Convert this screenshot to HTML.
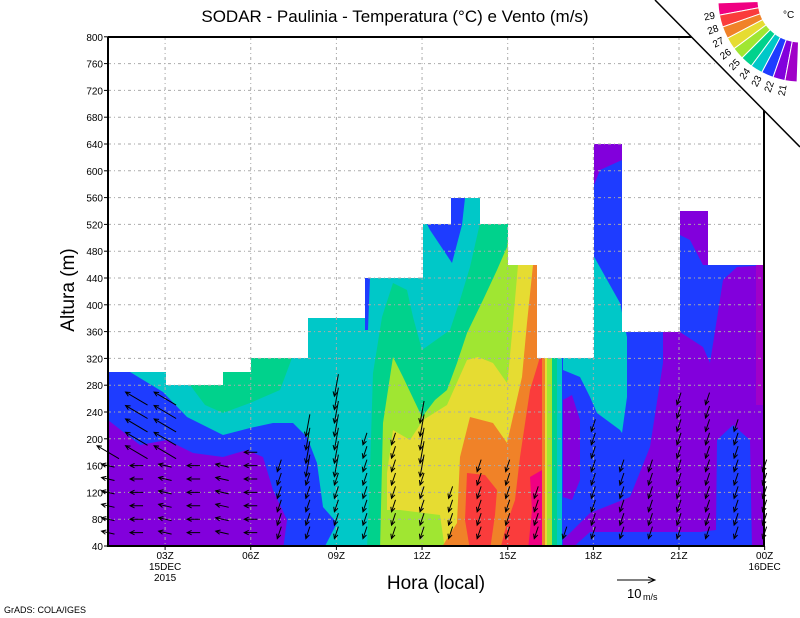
<!DOCTYPE html>
<html><head><meta charset="utf-8"><style>
html,body{margin:0;padding:0;background:#fff;}
svg{display:block;font-family:"Liberation Sans",sans-serif;}
</style></head><body>
<svg id="s" width="800" height="618" viewBox="0 0 800 618" xmlns="http://www.w3.org/2000/svg">
<defs>
<clipPath id="dc"><polygon points="108,546 108,372 166,372 166,385 223,385 223,372 251,372 251,358 308,358 308,318 365,318 365,278 423,278 423,224 451,224 451,198 480,198 480,224 508,224 508,265 537,265 537,358 594,358 594,144 622,144 622,332 680,332 680,211 708,211 708,265 764,265 764,546"/></clipPath>
</defs>
<rect width="800" height="618" fill="#fff"/>
<g clip-path="url(#dc)">
<rect x="100" y="100" width="700" height="460" fill="#1e3cff"/>
<polygon fill="#8200dc" points="100,420 108,420 140,445 167,440 193,453 223,457 247,450 263,457 273,490 287,520 283,550 100,550"/>
<polygon fill="#00c8c8" points="130,372 163,392 187,417 223,435 250,428 273,423 293,423 307,437 317,463 323,507 337,523 323,550 562,550 562,100 130,100"/>
<polygon fill="#00c8c8" points="563,370 580,377 590,397 597,413 620,430 622,433 627,397 627,337 620,303 592,253 592,358 563,358"/>
<polygon fill="#00d28c" points="190,385 223,385 223,372 251,372 251,358 292,358 280,390 250,403 223,413 205,405"/>
<polygon fill="#00d28c" points="367,550 370,470 373,373 382,317 393,283 407,290 413,317 422,350 450,330 460,300 470,267 480,223 480,190 557,190 557,550"/>
<polygon fill="#a0e632" points="380,550 383,423 393,357 403,377 422,417 435,400 447,390 457,363 467,333 483,300 497,270 507,247 510,224 552,224 552,550"/>
<polygon fill="#e6dc32" points="393,430 410,440 423,420 447,405 467,360 478,357 493,363 507,383 508,377 513,323 518,265 518,224 547,224 547,550 445,550 440,515 400,510 387,510 387,473"/>
<polygon fill="#f08228" points="440,550 457,523 460,457 470,417 493,423 507,443 522,377 527,323 533,265 533,224 545,224 545,550"/>
<polygon fill="#fa3c3c" points="467,473 485,475 497,490 495,515 490,550 470,550 465,520"/>
<polygon fill="#fa3c3c" points="500,550 507,523 515,500 520,457 530,390 537,367 542,350 542,550"/>
<polygon fill="#f00082" points="530,477 542,470 542,550 528,550 532,510"/>
<polygon fill="#1e3cff" points="427,224 451,224 451,198 465,198 462,225 452,263 440,245 430,230"/>
<polygon fill="#1e3cff" points="365,278 370,278 368,330 365,330"/>
<polygon fill="#8200dc" points="563,400 572,395 580,420 580,480 572,500 563,497"/>
<polygon fill="#8200dc" points="663,330 680,332 703,347 710,363 723,280 737,267 770,265 770,550 752,550 750,440 733,425 717,440 716,530 700,532 590,532 570,550 563,550 563,540 590,513 630,497 650,447 663,363"/>
<polygon fill="#8200dc" points="680,211 708,211 708,265 703,265 690,240 680,235"/>
<polygon fill="#8200dc" points="594,144 622,144 622,160 600,170 594,185"/>
<rect x="756" y="265" width="10" height="140" fill="#a000c8"/>
</g>
<g id="grid" stroke="#aaa" stroke-width="1" stroke-dasharray="3,3,1,3"></g>
<g id="arr" stroke="#000" stroke-width="1" fill="none"></g>
<g stroke="#000" stroke-width="2" fill="none">
<line x1="108" y1="37" x2="108" y2="547"/>
<line x1="107" y1="546" x2="765" y2="546"/>
<line x1="108" y1="37" x2="700" y2="37"/>
<line x1="764" y1="37" x2="764" y2="546"/>
</g>
<g id="ticks" stroke="#000" stroke-width="1"></g>
<g id="lab" font-size="10" fill="#000"></g>
<polygon points="655,0 800,0 800,147" fill="#fff"/>
<line x1="655" y1="0" x2="800" y2="147" stroke="#000" stroke-width="1.5"/>
<g id="cb"></g>
<text x="395" y="22" font-size="17" text-anchor="middle">SODAR - Paulinia - Temperatura (°C) e Vento (m/s)</text>
<text transform="translate(74,290) rotate(-90)" font-size="19" text-anchor="middle">Altura (m)</text>
<text x="436" y="589" font-size="19" text-anchor="middle">Hora (local)</text>
<line x1="617" y1="580" x2="654" y2="580" stroke="#000"/>
<polyline points="648,577 655,580 648,583" fill="none" stroke="#000"/>
<text x="627" y="598" font-size="13">10</text><text x="643" y="600" font-size="9">m/s</text>
<text x="4" y="613" font-size="9">GrADS: COLA/IGES</text>
<text x="783" y="18" font-size="10">°C</text>
</svg>
<script>
(function(){
var NS="http://www.w3.org/2000/svg";
function el(p,t,a,txt){var e=document.createElementNS(NS,t);for(var k in a)e.setAttribute(k,a[k]);if(txt!==undefined)e.textContent=txt;document.getElementById(p).appendChild(e);return e;}
function Y(z){return 546-(z-40)/40*26.8;}
function X(h){return 108+(h-1)*28.55;}
for(var z=80;z<=800;z+=40){el("grid","line",{x1:108,y1:Y(z),x2:764,y2:Y(z)});}
for(var h=3;h<24;h+=3){el("grid","line",{x1:X(h),y1:37,x2:X(h),y2:546});}
for(var z=40;z<=800;z+=40){el("lab","text",{x:103,y:Y(z)+4,"text-anchor":"end"},z);el("ticks","line",{x1:104,y1:Y(z),x2:108,y2:Y(z)});}
var xl=["03Z","06Z","09Z","12Z","15Z","18Z","21Z","00Z"];
for(var i=0;i<8;i++){var x=X(3+3*i);el("lab","text",{x:x,y:559,"text-anchor":"middle"},xl[i]);el("ticks","line",{x1:x,y1:546,x2:x,y2:550});}
el("lab","text",{x:X(3),y:570,"text-anchor":"middle"},"15DEC");
el("lab","text",{x:X(3),y:581,"text-anchor":"middle"},"2015");
el("lab","text",{x:X(24),y:570,"text-anchor":"middle"},"16DEC");
var tops=[180,270,270,160,160,180,160,220,280,200,200,240,120,160,160,120,60,220,160,160,270,270,220,160];
function arrow(x,y,dx,dy){var x2=x+dx,y2=y+dy,a=Math.atan2(dy,dx),L=5;
var p="M"+x+","+y+"L"+x2+","+y2+"M"+(x2-L*Math.cos(a-0.45))+","+(y2-L*Math.sin(a-0.45))+"L"+x2+","+y2+"L"+(x2-L*Math.cos(a+0.45))+","+(y2-L*Math.sin(a+0.45));
el("arr","path",{d:p});}
for(var h=1;h<=24;h++){for(var z=60;z<=tops[h-1];z+=20){var x=X(h),y=Y(z),dx,dy;
if(h<=6){if(z>=180&&h<=3){dx=-22;dy=-13;}else{dx=-13;dy=(h%2?-3:0);}}
else{var L=12;if((h==8||h==9||h==12)&&z>=160)L=22;dx=-4;dy=L;}
arrow(x-dx/2,y-dy/2,dx,dy);}}
var cols=["#f00082","#fa3c3c","#f08228","#e6dc32","#a0e632","#00d28c","#00c8c8","#1e3cff","#8200dc","#a000c8"];
var cx=800,cy=0,r1=82,r2=42,a0=178,a1=92,n=10,st=(a0-a1)/n;
function pt(r,a){a=a*Math.PI/180;return (cx+r*Math.cos(a)).toFixed(1)+","+(cy+r*Math.sin(a)).toFixed(1);}
for(var i=0;i<n;i++){var b=a0-i*st,e=b-st;
el("cb","path",{d:"M"+pt(r2,b)+"L"+pt(r1,b)+"A"+r1+","+r1+" 0 0 0 "+pt(r1,e)+"L"+pt(r2,e)+"A"+r2+","+r2+" 0 0 1 "+pt(r2,b)+"Z",fill:cols[i],stroke:"#fff","stroke-width":1});}
var labs=["29","28","27","26","25","24","23","22","21"];
for(var i=0;i<9;i++){var a=a0-(i+1)*st,ar=a*Math.PI/180,r=92;var px=cx+r*Math.cos(ar),py=cy+r*Math.sin(ar);
el("cb","text",{x:px,y:py,"font-size":10,"text-anchor":"middle","dominant-baseline":"middle",transform:"rotate("+(a-180)+" "+px+" "+py+")"},labs[i]);}
})();
</script>
</body></html>
